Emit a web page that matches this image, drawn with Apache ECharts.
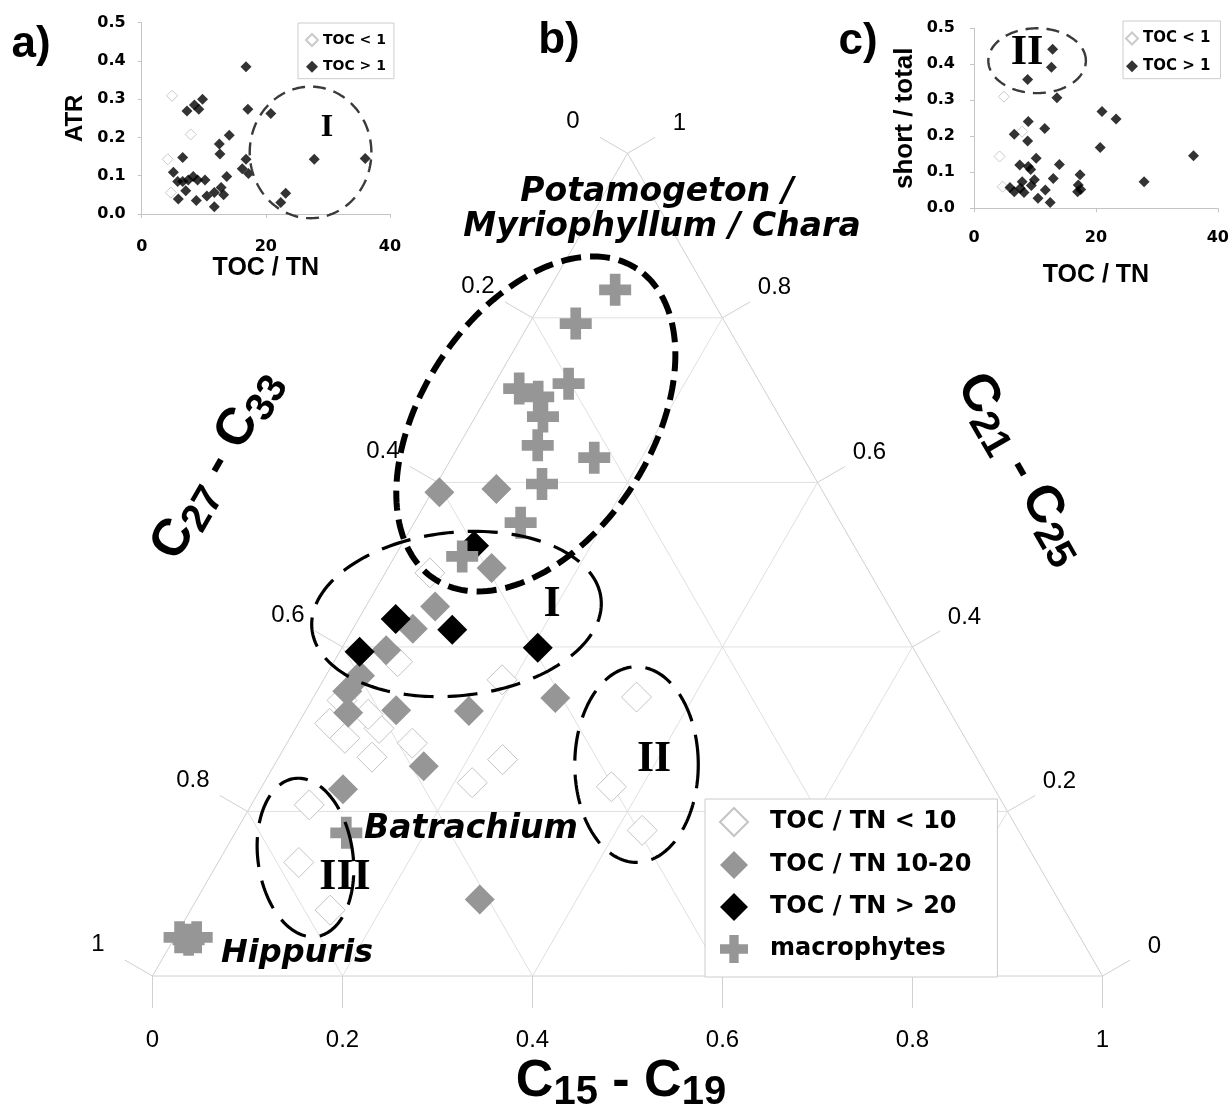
<!DOCTYPE html>
<html>
<head>
<meta charset="utf-8">
<script src="https://cdn.jsdelivr.net/npm/echarts@6/dist/echarts.min.js"></script>
<style>
  html, body { margin: 0; padding: 0; background: #ffffff; }
  #chart { width: 1232px; height: 1111px; }
</style>
</head>
<body>
<div id="chart"></div>
<script>
// ---- n-alkane composition, fractions [C15-C19, C21-C25, C27-C33] ----
const SAMPLES_TOCTN_LOW = [   // TOC / TN < 10
  [0.047, 0.490, 0.463], [0.067, 0.382, 0.551], [0.188, 0.360, 0.452],
  [0.033, 0.307, 0.660], [0.058, 0.289, 0.653], [0.088, 0.301, 0.611],
  [0.068, 0.318, 0.614], [0.132, 0.283, 0.585], [0.098, 0.266, 0.636],
  [0.237, 0.263, 0.500], [0.219, 0.235, 0.546], [0.032, 0.335, 0.633],
  [0.061, 0.208, 0.731], [0.085, 0.138, 0.777], [0.147, 0.080, 0.773],
  [0.340, 0.339, 0.321], [0.368, 0.230, 0.402], [0.427, 0.177, 0.396]
];
const SAMPLES_TOCTN_MID = [   // TOC / TN 10-20
  [0.008, 0.588, 0.404], [0.066, 0.592, 0.342], [0.109, 0.496, 0.395],
  [0.073, 0.449, 0.478], [0.063, 0.422, 0.515], [0.048, 0.396, 0.556],
  [0.036, 0.365, 0.599], [0.032, 0.346, 0.622], [0.255, 0.338, 0.407],
  [0.172, 0.322, 0.506], [0.046, 0.320, 0.634], [0.095, 0.323, 0.582],
  [0.158, 0.255, 0.587], [0.087, 0.227, 0.686], [0.298, 0.093, 0.609]
];
const SAMPLES_TOCTN_HIGH = [  // TOC / TN > 20
  [0.077, 0.523, 0.400], [0.039, 0.434, 0.527], [0.105, 0.421, 0.474],
  [0.206, 0.399, 0.395], [0.021, 0.394, 0.585]
];
const MACROPHYTES = [
  [0.070, 0.834, 0.096], [0.049, 0.793, 0.158], [0.029, 0.714, 0.257],
  [0.078, 0.720, 0.202], [0.054, 0.704, 0.242], [0.071, 0.680, 0.249],
  [0.083, 0.645, 0.272], [0.150, 0.630, 0.220], [0.111, 0.598, 0.291],
  [0.112, 0.551, 0.337], [0.071, 0.510, 0.419], [0.117, 0.174, 0.709],
  [0.005, 0.047, 0.948], [0.016, 0.044, 0.940], [0.023, 0.047, 0.930]
];
const TERNARY_TICKS = [0, 0.2, 0.4, 0.6, 0.8, 1];
const TERNARY_TICK_LABELS = ['0', '0.2', '0.4', '0.6', '0.8', '1'];

// ---- inset a: TOC/TN vs ATR ----
const ATR_TOC_LOW = [[4.9, 0.309], [7.9, 0.208], [4.2, 0.143], [4.7, 0.056]];
const ATR_TOC_HIGH = [
  [16.8, 0.385], [17.1, 0.274], [20.8, 0.263], [27.8, 0.143], [36.0, 0.145],
  [22.4, 0.030], [23.2, 0.054], [16.8, 0.143], [16.2, 0.118], [17.2, 0.106],
  [9.8, 0.300], [7.3, 0.269], [8.5, 0.285], [9.2, 0.274], [14.1, 0.206],
  [12.5, 0.183], [12.6, 0.157], [6.6, 0.148], [5.1, 0.109], [5.8, 0.085],
  [6.6, 0.085], [7.5, 0.089], [8.3, 0.098], [9.0, 0.089], [10.2, 0.089],
  [13.7, 0.098], [7.1, 0.061], [5.9, 0.039], [8.8, 0.035], [10.5, 0.047],
  [11.7, 0.056], [12.8, 0.069], [13.2, 0.050], [11.7, 0.019]
];

// ---- inset c: TOC/TN vs short / total ----
const SHORT_TOC_LOW = [[4.9, 0.310], [7.9, 0.213], [4.2, 0.144], [4.7, 0.060]];
const SHORT_TOC_HIGH = [
  [12.9, 0.442], [12.7, 0.392], [8.8, 0.358], [13.6, 0.307], [21.0, 0.269],
  [23.3, 0.248], [20.7, 0.169], [36.0, 0.146], [27.9, 0.074], [8.9, 0.241],
  [6.6, 0.206], [11.6, 0.222], [8.8, 0.187], [10.2, 0.139], [14.0, 0.122],
  [8.9, 0.116], [7.5, 0.120], [9.3, 0.108], [9.9, 0.079], [13.0, 0.083],
  [17.4, 0.093], [5.9, 0.058], [6.6, 0.046], [7.9, 0.074], [7.6, 0.056],
  [8.2, 0.044], [9.4, 0.063], [11.7, 0.051], [10.5, 0.028], [12.5, 0.016],
  [17.1, 0.065], [17.0, 0.046], [17.5, 0.052]
];
const INSET_X_TICKS = { min: 0, max: 40, interval: 20 };
const INSET_Y_TICKS = { min: 0, max: 0.5, interval: 0.1 };

// ---- outlined groups ----
// ternary groups: centre [C15-C19, C21-C25, C27-C33], half axes in side lengths, tilt in degrees
const TERNARY_GROUPS = [
  { centre: [0.068, 0.671, 0.261], half: [0.195, 0.121], tilt: 57, kind: 'heavy' },
  { centre: [0.100, 0.440, 0.460], half: [0.153, 0.086], tilt: 6, kind: 'light' },
  { centre: [0.381, 0.257, 0.362], half: [0.065, 0.103], tilt: 0, kind: 'light' },
  { centre: [0.089, 0.144, 0.767], half: [0.050, 0.084], tilt: 8, kind: 'light' }
];
const ATR_GROUP = { centre: [27.2, 0.161], half: [9.8, 0.172] };
const SHORT_GROUP = { centre: [10.35, 0.410], half: [8.0, 0.090] };

// ---- styling ----
const SANS = '"Liberation Sans", Arial, sans-serif';
const WIDE = '"DejaVu Sans", Verdana, sans-serif';
const SERIF = '"Liberation Serif", "Times New Roman", serif';
const GREY = '#969696';
const GRID_LINE = '#e0e0e0';
const FRAME_LINE = '#d0d0d0';
const OUTLINE_STYLES = {
  heavy: { stroke: '#000', lineWidth: 6, lineDash: [20, 9] },
  light: { stroke: '#000', lineWidth: 3.2, lineDash: [30, 14] },
  inset: { stroke: '#3a3a3a', lineWidth: 2.4, lineDash: [13, 8] }
};
// path symbols keep their aspect ratio inside legend boxes
const PLUS = 'path://M1,0H2V1H3V2H2V3H1V2H0V1H1Z';
const DIAMOND = 'path://M1,0L2,1L1,2L0,1Z';

const SQ3_2 = Math.sqrt(3) / 2;
// ternary -> cartesian: C15-C19 corner at (1,0), C21-C25 at apex, C27-C33 at (0,0)
const toXY = (p) => [p[0] + p[1] / 2, p[1] * SQ3_2];

function ellipsePath(c, rx, ry, tiltDeg) {
  const th = tiltDeg * Math.PI / 180;
  const pts = [];
  for (let k = 0; k < 180; k++) {
    const f = (k / 180) * Math.PI * 2;
    const lx = rx * Math.cos(f), ly = ry * Math.sin(f);
    pts.push([
      c[0] + lx * Math.cos(th) - ly * Math.sin(th),
      c[1] - (lx * Math.sin(th) + ly * Math.cos(th))
    ]);
  }
  return pts;
}

function renderFrame(params, api) {
  const i = params.dataIndex;
  const t = api.value(0);
  const P = (a, b) => api.coord(toXY([a, b]));
  const seg = (p, q, color) => ({
    type: 'line', silent: true,
    shape: { x1: p[0], y1: p[1], x2: q[0], y2: q[1] },
    style: { stroke: color, lineWidth: 1 }
  });
  const label = (p, s) => ({
    type: 'text', x: p[0], y: p[1], silent: true,
    style: { text: s, fill: '#000', fontSize: 24, fontFamily: SANS, align: 'center', verticalAlign: 'middle' }
  });
  const move = (p, d, k) => [p[0] + d[0] * k, p[1] + d[1] * k];
  const out = [];
  if (t > 0 && t < 1) {
    out.push(seg(P(0, t), P(1 - t, t), GRID_LINE));       // C21-C25 = t
    out.push(seg(P(t, 0), P(t, 1 - t), GRID_LINE));       // C15-C19 = t
    out.push(seg(P(1 - t, 0), P(0, 1 - t), GRID_LINE));   // C27-C33 = t
  }
  if (i === 0) {
    out.push({
      type: 'polygon', silent: true,
      shape: { points: [P(0, 0), P(1, 0), P(0, 1)] },
      style: { fill: 'none', stroke: FRAME_LINE, lineWidth: 1 }
    });
  }
  const down = [0, 1];
  const leftOut = [-SQ3_2, -0.5];
  const rightOut = [SQ3_2, -0.5];
  const b = P(t, 0);        // bottom: C15-C19
  const l = P(0, 1 - t);    // left:   C27-C33
  const r = P(1 - t, t);    // right:  C21-C25
  out.push(seg(b, move(b, down, 32), FRAME_LINE));
  out.push(seg(l, move(l, leftOut, 32), FRAME_LINE));
  out.push(seg(r, move(r, rightOut, 32), FRAME_LINE));
  const txt = TERNARY_TICK_LABELS[i];
  out.push(label(move(b, down, 64), txt));
  out.push(label(move(l, leftOut, 63), txt));
  out.push(label(move(r, rightOut, 60), txt));
  return { type: 'group', children: out };
}

function makeOutlineRenderer(kinds, rotate) {
  return function (params, api) {
    const c = api.coord([api.value(0), api.value(1)]);
    const s = api.size([api.value(2), api.value(3)]);
    const tilt = rotate ? api.value(4) : 0;
    return {
      type: 'polygon', silent: true,
      shape: { points: ellipsePath(c, s[0], s[1], tilt) },
      style: Object.assign({ fill: 'none' }, OUTLINE_STYLES[kinds[params.dataIndex]])
    };
  };
}

const insetAxis = {
  type: 'value',
  axisLine: { show: true, onZero: false, lineStyle: { color: '#c4c4c4', width: 1 } },
  axisTick: { show: true, length: 4, lineStyle: { color: '#c4c4c4' } },
  splitLine: { show: false },
  nameLocation: 'middle',
  nameTextStyle: { color: '#000', fontFamily: SANS, fontWeight: 'bold', fontSize: 25 }
};
const insetLabel = { color: '#000', fontFamily: WIDE, fontWeight: 'bold', fontSize: 16 };

const hollowStyle = { color: '#ffffff', borderColor: '#c4c4c4', borderWidth: 1, opacity: 1 };

const chart = echarts.init(document.getElementById('chart'), null, { renderer: 'canvas' });

const option = {
  backgroundColor: '#ffffff',
  animation: false,
  grid: [
    { left: 152.5, top: 153.3, width: 950, height: 822.7 },
    { left: 141.7, top: 22.7, width: 248.3, height: 191.3 },
    { left: 974, top: 28.3, width: 245.3, height: 180 }
  ],
  xAxis: [
    { gridIndex: 0, type: 'value', min: 0, max: 1, show: false },
    Object.assign({}, insetAxis, {
      gridIndex: 1, min: INSET_X_TICKS.min, max: INSET_X_TICKS.max, interval: INSET_X_TICKS.interval,
      name: 'TOC / TN', nameGap: 38,
      axisLabel: Object.assign({ margin: 25 }, insetLabel)
    }),
    Object.assign({}, insetAxis, {
      gridIndex: 2, min: INSET_X_TICKS.min, max: INSET_X_TICKS.max, interval: INSET_X_TICKS.interval,
      name: 'TOC / TN', nameGap: 54,
      axisLabel: Object.assign({ margin: 22 }, insetLabel)
    })
  ],
  yAxis: [
    { gridIndex: 0, type: 'value', min: 0, max: SQ3_2, show: false },
    Object.assign({}, insetAxis, {
      gridIndex: 1, min: INSET_Y_TICKS.min, max: INSET_Y_TICKS.max, interval: INSET_Y_TICKS.interval,
      name: 'ATR', nameGap: 54,
      nameTextStyle: { color: '#000', fontFamily: SANS, fontWeight: 'bold', fontSize: 24 },
      axisLabel: Object.assign({ margin: 16, formatter: (v) => v.toFixed(1) }, insetLabel)
    }),
    Object.assign({}, insetAxis, {
      gridIndex: 2, min: INSET_Y_TICKS.min, max: INSET_Y_TICKS.max, interval: INSET_Y_TICKS.interval,
      name: 'short / total', nameGap: 56,
      nameTextStyle: { color: '#000', fontFamily: SANS, fontWeight: 'bold', fontSize: 26 },
      axisLabel: Object.assign({ margin: 19, formatter: (v) => v.toFixed(1) }, insetLabel)
    })
  ],
  legend: [
    {
      data: ['TOC / TN < 10', 'TOC / TN 10-20', 'TOC / TN > 20', 'macrophytes'],
      orient: 'vertical', left: 705, top: 799,
      padding: [8, 26, 14, 14], itemWidth: 28, itemHeight: 28, itemGap: 14,
      backgroundColor: '#ffffff', borderColor: '#cccccc', borderWidth: 1,
      selectedMode: false,
      formatter: (name) => '{gap|}' + name,
      textStyle: {
        color: '#000', fontFamily: WIDE, fontWeight: 'bold', fontSize: 24,
        rich: { gap: { width: 17 } }
      }
    },
    {
      data: ['TOC < 1', 'TOC > 1'],
      orient: 'vertical', left: 298, top: 23,
      padding: [10, 8, 5, 7], itemWidth: 12, itemHeight: 12, itemGap: 12.7,
      backgroundColor: '#ffffff', borderColor: '#cccccc', borderWidth: 1,
      selectedMode: false,
      textStyle: { color: '#000', fontFamily: WIDE, fontWeight: 'bold', fontSize: 14, lineHeight: 14 }
    },
    {
      data: ['TOC < 1', 'TOC > 1'],
      orient: 'vertical', left: 1123, top: 21,
      padding: [10, 10, 5, 2], itemWidth: 12, itemHeight: 12, itemGap: 12.7,
      backgroundColor: '#ffffff', borderColor: '#cccccc', borderWidth: 1,
      selectedMode: false,
      textStyle: { color: '#000', fontFamily: WIDE, fontWeight: 'bold', fontSize: 15, lineHeight: 14 }
    }
  ],
  series: [
    {
      type: 'custom', name: 'frame', xAxisIndex: 0, yAxisIndex: 0, silent: true, z: 1,
      renderItem: renderFrame,
      data: TERNARY_TICKS.map((v) => [v])
    },
    {
      type: 'scatter', name: 'TOC / TN < 10', xAxisIndex: 0, yAxisIndex: 0,
      symbol: DIAMOND, symbolSize: 30, itemStyle: hollowStyle,
      data: SAMPLES_TOCTN_LOW.map(toXY)
    },
    {
      type: 'scatter', name: 'TOC / TN 10-20', xAxisIndex: 0, yAxisIndex: 0,
      symbol: DIAMOND, symbolSize: 30, itemStyle: { color: GREY, opacity: 1 },
      data: SAMPLES_TOCTN_MID.map(toXY)
    },
    {
      type: 'scatter', name: 'TOC / TN > 20', xAxisIndex: 0, yAxisIndex: 0,
      symbol: DIAMOND, symbolSize: 30, itemStyle: { color: '#000000', opacity: 1 },
      data: SAMPLES_TOCTN_HIGH.map(toXY)
    },
    {
      type: 'scatter', name: 'macrophytes', xAxisIndex: 0, yAxisIndex: 0,
      symbol: PLUS, symbolSize: 32, itemStyle: { color: GREY, opacity: 1 },
      data: MACROPHYTES.map(toXY)
    },
    {
      type: 'custom', name: 'groups', xAxisIndex: 0, yAxisIndex: 0, silent: true, z: 5,
      renderItem: makeOutlineRenderer(TERNARY_GROUPS.map((g) => g.kind), true),
      data: TERNARY_GROUPS.map((g) => toXY(g.centre).concat([g.half[0], g.half[1], g.tilt]))
    },
    {
      type: 'scatter', name: 'TOC < 1', xAxisIndex: 1, yAxisIndex: 1,
      symbol: DIAMOND, symbolSize: 11, itemStyle: { color: '#ffffff', borderColor: '#bdbdbd', borderWidth: 1 },
      data: ATR_TOC_LOW
    },
    {
      type: 'scatter', name: 'TOC > 1', xAxisIndex: 1, yAxisIndex: 1,
      symbol: DIAMOND, symbolSize: 11, itemStyle: { color: '#000000' },
      data: ATR_TOC_HIGH
    },
    {
      type: 'custom', name: 'group I', xAxisIndex: 1, yAxisIndex: 1, silent: true, z: 5,
      renderItem: makeOutlineRenderer(['inset'], false),
      data: [ATR_GROUP.centre.concat(ATR_GROUP.half)]
    },
    {
      type: 'scatter', name: 'TOC < 1', xAxisIndex: 2, yAxisIndex: 2,
      symbol: DIAMOND, symbolSize: 11, itemStyle: { color: '#ffffff', borderColor: '#bdbdbd', borderWidth: 1 },
      data: SHORT_TOC_LOW
    },
    {
      type: 'scatter', name: 'TOC > 1', xAxisIndex: 2, yAxisIndex: 2,
      symbol: DIAMOND, symbolSize: 11, itemStyle: { color: '#000000' },
      data: SHORT_TOC_HIGH
    },
    {
      type: 'custom', name: 'group II', xAxisIndex: 2, yAxisIndex: 2, silent: true, z: 5,
      renderItem: makeOutlineRenderer(['inset'], false),
      data: [SHORT_GROUP.centre.concat(SHORT_GROUP.half)]
    }
  ],
  graphic: {
    elements: [
      // panel letters
      { type: 'text', x: 31, y: 45, z: 100, style: { text: 'a)', fill: '#000', fontFamily: SANS, fontWeight: 'bold', fontSize: 44, align: 'center', verticalAlign: 'middle' } },
      { type: 'text', x: 559, y: 41, z: 100, style: { text: 'b)', fill: '#000', fontFamily: SANS, fontWeight: 'bold', fontSize: 44, align: 'center', verticalAlign: 'middle' } },
      { type: 'text', x: 858, y: 42, z: 100, style: { text: 'c)', fill: '#000', fontFamily: SANS, fontWeight: 'bold', fontSize: 44, align: 'center', verticalAlign: 'middle' } },
      // group numerals
      { type: 'text', x: 327, y: 128, z: 100, style: { text: 'I', fill: '#000', fontFamily: SERIF, fontWeight: 'bold', fontSize: 32, align: 'center', verticalAlign: 'middle' } },
      { type: 'text', x: 1027, y: 53, z: 100, style: { text: 'II', fill: '#000', fontFamily: SERIF, fontWeight: 'bold', fontSize: 42, align: 'center', verticalAlign: 'middle' } },
      { type: 'text', x: 552, y: 605, z: 100, style: { text: 'I', fill: '#000', fontFamily: SERIF, fontWeight: 'bold', fontSize: 44, align: 'center', verticalAlign: 'middle' } },
      { type: 'text', x: 654, y: 760, z: 100, style: { text: 'II', fill: '#000', fontFamily: SERIF, fontWeight: 'bold', fontSize: 44, align: 'center', verticalAlign: 'middle' } },
      { type: 'text', x: 345, y: 878, z: 100, style: { text: 'III', fill: '#000', fontFamily: SERIF, fontWeight: 'bold', fontSize: 44, align: 'center', verticalAlign: 'middle' } },
      // taxa
      { type: 'text', x: 657, y: 192, z: 100, style: { text: 'Potamogeton /', fill: '#000', fontFamily: WIDE, fontWeight: 'bold', fontStyle: 'italic', fontSize: 33, align: 'center', verticalAlign: 'middle' } },
      { type: 'text', x: 662, y: 227, z: 100, style: { text: 'Myriophyllum / Chara', fill: '#000', fontFamily: WIDE, fontWeight: 'bold', fontStyle: 'italic', fontSize: 33, align: 'center', verticalAlign: 'middle' } },
      { type: 'text', x: 364, y: 829, z: 100, style: { text: 'Batrachium', fill: '#000', fontFamily: WIDE, fontWeight: 'bold', fontStyle: 'italic', fontSize: 33, align: 'left', verticalAlign: 'middle' } },
      { type: 'text', x: 221, y: 954, z: 100, style: { text: 'Hippuris', fill: '#000', fontFamily: WIDE, fontWeight: 'bold', fontStyle: 'italic', fontSize: 32, align: 'left', verticalAlign: 'middle' } },
      // ternary axis titles
      {
        type: 'text', x: 621, y: 1084, z: 100,
        style: {
          text: '{c|C}{s|15}{c| - C}{s|19}', align: 'center', verticalAlign: 'middle',
          rich: {
            c: { fill: '#000', fontFamily: SANS, fontWeight: 'bold', fontSize: 52, verticalAlign: 'top' },
            s: { fill: '#000', fontFamily: SANS, fontWeight: 'bold', fontSize: 40, verticalAlign: 'top', padding: [17, 0, 0, 0] }
          }
        }
      },
      {
        type: 'text', x: 219, y: 466, z: 100, rotation: Math.PI / 3,
        style: {
          text: '{c|C}{s|27}{c| - C}{s|33}', align: 'center', verticalAlign: 'middle',
          rich: {
            c: { fill: '#000', fontFamily: SANS, fontWeight: 'bold', fontSize: 52, verticalAlign: 'top' },
            s: { fill: '#000', fontFamily: SANS, fontWeight: 'bold', fontSize: 40, verticalAlign: 'top', padding: [17, 0, 0, 0] }
          }
        }
      },
      {
        type: 'text', x: 1019, y: 470, z: 100, rotation: -Math.PI / 3,
        style: {
          text: '{c|C}{s|21}{c| - C}{s|25}', align: 'center', verticalAlign: 'middle',
          rich: {
            c: { fill: '#000', fontFamily: SANS, fontWeight: 'bold', fontSize: 52, verticalAlign: 'top' },
            s: { fill: '#000', fontFamily: SANS, fontWeight: 'bold', fontSize: 40, verticalAlign: 'top', padding: [17, 0, 0, 0] }
          }
        }
      }
    ]
  }
};

chart.setOption(option);
</script>
</body>
</html>
